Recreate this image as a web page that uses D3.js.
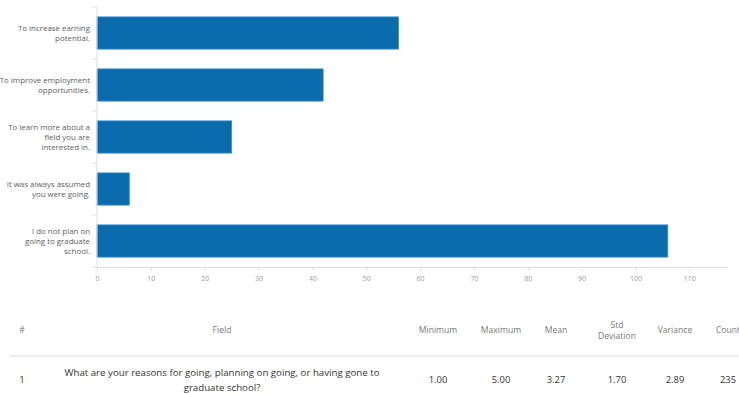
<!DOCTYPE html>
<html>
<head>
<meta charset="utf-8">
<script src="https://cdn.jsdelivr.net/npm/d3@7.9.0/dist/d3.min.js"></script>
<style>
  html, body { margin: 0; padding: 0; background: #fff; }
  svg { display: block; font-family: "Open Sans", "Noto Sans", sans-serif; }
</style>
</head>
<body>
<svg id="chart" width="739" height="394"></svg>
<script>
// ── Data ────────────────────────────────────────────────────────────────────
var categories = [
  ["To increase earning", "potential."],
  ["To improve employment", "opportunities."],
  ["To learn more about a", "field you are", "interested in."],
  ["It was always assumed", "you were going."],
  ["I do not plan on", "going to graduate", "school."]
];
var counts = [56, 42, 25, 6, 106];
var xTicks = [0, 10, 20, 30, 40, 50, 60, 70, 80, 90, 100, 110];

var tableHeaders = [["#"], ["Field"], ["Minimum"], ["Maximum"], ["Mean"], ["Std", "Deviation"], ["Variance"], ["Count"]];
var tableRow = [["1"], ["What are your reasons for going, planning on going, or having gone to", "graduate school?"],
                ["1.00"], ["5.00"], ["3.27"], ["1.70"], ["2.89"], ["235"]];

// ── Layout ──────────────────────────────────────────────────────────────────
var svg = d3.select("#chart");
var L = 97, R = 727, T = 7, B = 267;
var BAR = "#0b6cad";

var x = d3.scaleLinear().domain([0, 117]).range([L, R]);
var y = d3.scaleBand().domain(d3.range(categories.length)).range([T, B]).paddingInner(0.38).paddingOuter(0.19);

// bars
svg.append("g").selectAll("rect")
  .data(counts)
  .join("rect")
    .attr("x", x(0))
    .attr("y", function (d, i) { return y(i); })
    .attr("width", function (d) { return x(d) - x(0); })
    .attr("height", y.bandwidth())
    .attr("fill", BAR)
    .attr("stroke", "#3f8fc8")
    .attr("stroke-width", 0.8);

// x axis
var xAxis = svg.append("g")
  .attr("transform", "translate(0," + B + ")")
  .call(d3.axisBottom(x).tickValues(xTicks).tickSize(4).tickPadding(5).tickSizeOuter(0));
xAxis.select(".domain").attr("stroke", "#dcdcdc");
xAxis.selectAll(".tick line").attr("stroke", "#dcdcdc");
xAxis.selectAll(".tick text").attr("fill", "#9a9a9a").attr("font-size", "7px").attr("font-family", "Open Sans, sans-serif");

// y axis (band boundaries as ticks)
var yLine = svg.append("g");
yLine.append("line").attr("x1", L).attr("x2", L).attr("y1", T).attr("y2", B).attr("stroke", "#dcdcdc");
d3.range(categories.length + 1).forEach(function (i) {
  var yy = T + i * (B - T) / categories.length;
  yLine.append("line").attr("x1", L - 5).attr("x2", L).attr("y1", yy).attr("y2", yy).attr("stroke", "#dcdcdc");
});

// category labels
var lab = svg.append("g");
categories.forEach(function (lines, i) {
  var cy = y(i) + y.bandwidth() / 2;
  var lh = 10;
  var y0 = cy - (lines.length - 1) * lh / 2;
  var t = lab.append("text")
    .attr("text-anchor", "end")
    .attr("fill", "#5e5e5e")
    .attr("font-size", "7.9px");
  lines.forEach(function (s, j) {
    t.append("tspan").attr("x", 90).attr("y", y0 + j * lh).attr("dy", "0.35em").text(s);
  });
});

// ── Table ───────────────────────────────────────────────────────────────────
var colX = [22, 222, 438, 501, 556, 617, 675, 728];
var tbl = svg.append("g");

tableHeaders.forEach(function (lines, i) {
  var t = tbl.append("text").attr("text-anchor", "middle").attr("fill", "#7a7a7a").attr("font-size", "8.6px");
  var y0 = 333 - (lines.length - 1) * 5.5;
  lines.forEach(function (s, j) {
    t.append("tspan").attr("x", colX[i]).attr("y", y0 + j * 11).text(s);
  });
});

tbl.append("line").attr("x1", 10).attr("x2", 739).attr("y1", 356).attr("y2", 356)
  .attr("stroke", "#e6e6e6").attr("stroke-width", 1.5);

tableRow.forEach(function (lines, i) {
  var t = tbl.append("text").attr("text-anchor", "middle").attr("fill", "#333").attr("font-size", i === 1 ? "9.7px" : "9.4px");
  var y0 = 383 - (lines.length - 1) * 7.5;
  lines.forEach(function (s, j) {
    t.append("tspan").attr("x", colX[i]).attr("y", y0 + j * 15).text(s);
  });
});
</script>
</body>
</html>
